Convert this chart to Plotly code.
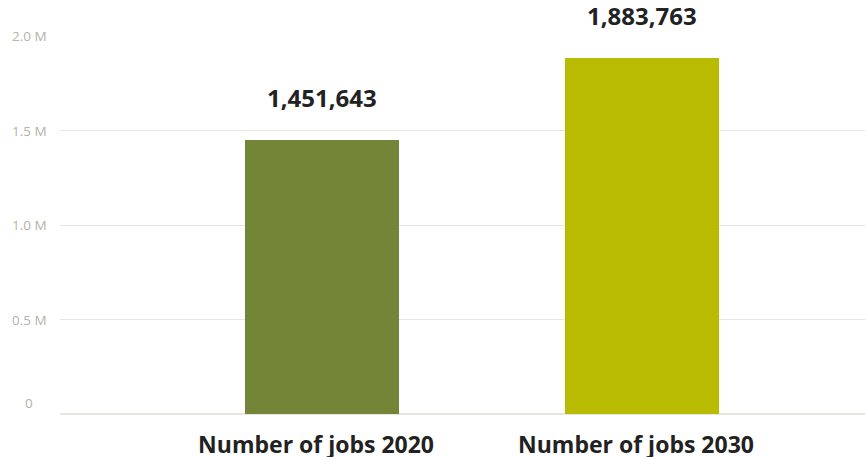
import plotly.graph_objects as go

# Job counts by year
categories = ["Number of jobs 2020", "Number of jobs 2030"]
jobs = [1451643, 1883763]
bar_colors = ["#738536", "#b9bb00"]

# Y axis ticks and their labels
y_ticks = [0, 500000, 1000000, 1500000, 2000000]
y_tick_labels = ["0", "0.5 M", "1.0 M", "1.5 M", "2.0 M"]

FONT = "Open Sans"

fig = go.Figure(
    go.Bar(
        x=categories,
        y=jobs,
        marker=dict(color=bar_colors, line=dict(width=0)),
        width=0.48,
        hoverinfo="skip",
    )
)

annotations = []
# value labels above each bar
for cat, val in zip(categories, jobs):
    annotations.append(dict(
        x=cat, y=val, xref="x", yref="y",
        text=f"{val:,}", showarrow=False,
        yanchor="bottom", yshift=24,
        font=dict(family=FONT, size=24, color="#222222", weight="bold"),
    ))
# y tick labels, centred in the left margin
for v, lab in zip(y_ticks, y_tick_labels):
    annotations.append(dict(
        x=0, y=v, xref="paper", yref="y",
        text=lab, showarrow=False,
        xanchor="center", xshift=-31,
        yanchor="bottom" if v == 0 else "middle",
        yshift=0,
        font=dict(family=FONT, size=13.5, color="#b3b3a8"),
    ))

fig.update_layout(
    width=865, height=457,
    margin=dict(l=60, r=0, t=36, b=43, autoexpand=False),
    paper_bgcolor="white", plot_bgcolor="white",
    showlegend=False,
    bargap=0,
    annotations=annotations,
    xaxis=dict(
        type="category",
        range=[-0.819, 1.697],
        automargin=False,
        showgrid=False, zeroline=False, showline=False,
        ticks="", ticklabelshift=-6, ticklabelstandoff=15,
        tickfont=dict(family=FONT, size=23, color="#222222", weight="bold"),
    ),
    yaxis=dict(
        range=[0, 2000000],
        tickvals=y_ticks,
        automargin=False,
        showticklabels=False,
        showgrid=True, gridcolor="#e6e6de", gridwidth=1,
        zeroline=True, zerolinecolor="#e6e6de", zerolinewidth=2,
        showline=False,
    ),
)

fig.write_html("out.html")
